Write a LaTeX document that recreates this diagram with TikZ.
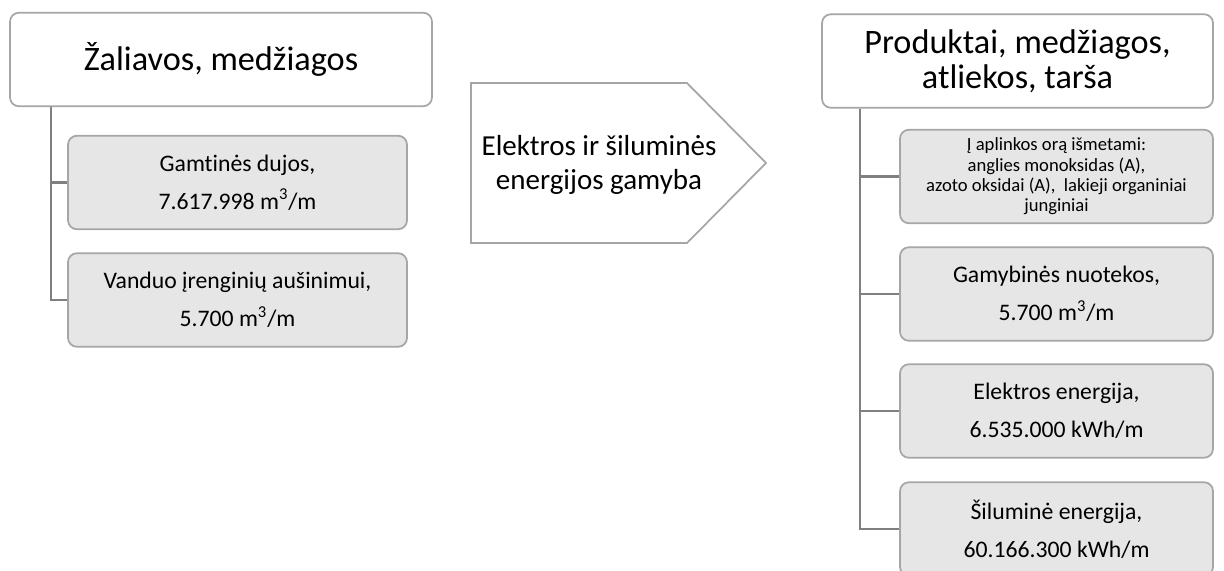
\documentclass[tikz,border=0pt]{standalone}
\usepackage{fontspec}
\setmainfont[Ligatures=NoCommon]{Carlito}
\usetikzlibrary{positioning}
\definecolor{boxline}{RGB}{166,166,166}
\definecolor{boxfill}{RGB}{230,230,230}
\definecolor{treeline}{RGB}{128,128,128}
\newcommand{\cubic}{m\textsuperscript{3}/m}
\tikzset{
  headbox/.style={draw=boxline, line width=1pt, rounded corners=5pt, fill=white,
    align=center, inner sep=0pt, minimum height=1.87cm,
    font=\fontsize{19.5}{20}\selectfont},
  itembox/.style={draw=boxline, line width=1pt, rounded corners=5pt, fill=boxfill,
    align=center, inner sep=0pt, minimum height=1.87cm,
    font=\fontsize{13.5}{21.5}\selectfont},
  smallitem/.style={itembox, font=\fontsize{10.6}{11.6}\selectfont},
  tree/.style={draw=treeline, line width=1.4pt}
}
\begin{document}
\begin{tikzpicture}[x=0.02cm, y=-0.02cm]
      \useasboundingbox (0,0) rectangle (1224,571);
      % left side
      \draw
        (221,59.5) node[headbox, minimum width=8.44cm] (inhead){Žaliavos, medžiagos}
        (237.5,182.5) node[itembox, minimum width=6.78cm] (in1){Gamtinės dujos,\\7.617.998 \cubic}
        (237.5,300) node[itembox, minimum width=6.78cm] (in2){Vanduo įrenginių aušinimui,\\5.700 \cubic};
      % process
      \draw[draw=boxline, line width=1pt, fill=white]
        (471,83) -- (687,83) -- (766,163) -- (687,243) -- (471,243) -- cycle;
      \node[align=center, font=\fontsize{16.5}{19}\selectfont] (proc) at (599,165)
        {Elektros ir šiluminės\\energijos gamyba};
      % right side
      \draw
        (1017.5,61) node[headbox, minimum width=7.82cm] (outhead){Produktai, medžiagos,\\atliekos, tarša}
        (1056.5,176.5) node[smallitem, minimum width=6.26cm] (out1){Į aplinkos orą išmetami:\\anglies monoksidas (A),\\azoto oksidai (A),\ \ lakieji organiniai\\junginiai}
        (1056.5,294) node[itembox, minimum width=6.26cm] (out2){Gamybinės nuotekos,\\5.700 \cubic}
        (1056.5,411) node[itembox, minimum width=6.26cm] (out3){Elektros energija,\\6.535.000 kWh/m}
        (1056.5,529) node[itembox, minimum width=6.26cm] (out4){Šiluminė energija,\\60.166.300 kWh/m};
      \begin{scope}[tree]
        \draw (inhead.south west) ++(42,0) |- (in1.west);
        \draw (inhead.south west) ++(42,0) |- (in2.west);
        \draw (outhead.south west) ++(39,0) |- (out1.west);
        \draw (outhead.south west) ++(39,0) |- (out2.west);
        \draw (outhead.south west) ++(39,0) |- (out3.west);
        \draw (outhead.south west) ++(39,0) |- (out4.west);
      \end{scope}
    \end{tikzpicture}
\end{document}
